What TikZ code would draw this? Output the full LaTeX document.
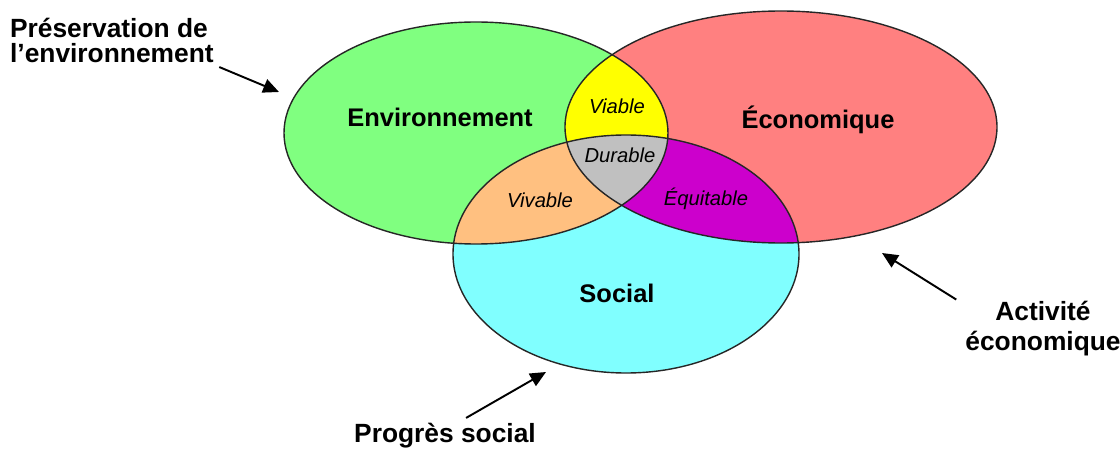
\documentclass[tikz,border=0pt]{standalone}
\usepackage{fontspec}
\setmainfont{Liberation Sans}
\usetikzlibrary{arrows.meta}
\definecolor{envgreen}{HTML}{80FF80}
\definecolor{ecored}{HTML}{FF8080}
\definecolor{soccyan}{HTML}{80FFFF}
\definecolor{viayellow}{HTML}{FFFF00}
\definecolor{vivpeach}{HTML}{FFC080}
\definecolor{equmagenta}{HTML}{CC00CC}
\definecolor{durgrey}{HTML}{C0C0C0}
\begin{document}
\begin{tikzpicture}[x=0.02cm,y=-0.02cm,>={Triangle[length=9pt,width=8pt]},
		edge/.style={draw=black!85,line width=0.8pt},
		zone/.style={font=\bfseries\fontsize{14.5}{16}\selectfont},
		inter/.style={font=\itshape\fontsize{11.5}{13}\selectfont},
		outer/.style={font=\bfseries\fontsize{15}{17}\selectfont,inner sep=1pt},
		pointer/.style={->,line width=1.1pt}]
	\useasboundingbox (0,0) rectangle (1120,456);
	% the three spheres
	\fill[envgreen] (476,133) ellipse [x radius=192,y radius=111];
	\fill[ecored] (781,127) ellipse [x radius=216,y radius=116];
	\fill[soccyan] (626,254) ellipse [x radius=173,y radius=119];
	% overlaps
	\begin{scope}
		\clip (476,133) ellipse [x radius=192,y radius=111];
		\fill[viayellow] (781,127) ellipse [x radius=216,y radius=116];
		\fill[vivpeach] (626,254) ellipse [x radius=173,y radius=119];
	\end{scope}
	\begin{scope}
		\clip (781,127) ellipse [x radius=216,y radius=116];
		\fill[equmagenta] (626,254) ellipse [x radius=173,y radius=119];
	\end{scope}
	\begin{scope}
		\clip (476,133) ellipse [x radius=192,y radius=111];
		\clip (781,127) ellipse [x radius=216,y radius=116];
		\fill[durgrey] (626,254) ellipse [x radius=173,y radius=119];
	\end{scope}
	\draw[edge] (476,133) ellipse [x radius=192,y radius=111];
	\draw[edge] (781,127) ellipse [x radius=216,y radius=116];
	\draw[edge] (626,254) ellipse [x radius=173,y radius=119];
	% names
	\node[zone] (env) at (440,117) {Environnement};
	\node[zone] (eco) at (818,120) {Économique};
	\node[zone] (soc) at (617,293) {Social};
	\node[inter] (via) at (617,106) {Viable};
	\node[inter] (dur) at (620,155) {Durable};
	\node[inter] (viv) at (540,200) {Vivable};
	\node[inter] (equ) at (706,199) {Équitable};
	% outside labels
	\node[outer,align=left,anchor=north west,font=\bfseries\fontsize{15}{14.5}\selectfont] (presv) at (8,16) {Préservation de\\l’environnement};
	\node[outer,align=center] (activ) at (1043,329) {Activité\\économique};
	\node[outer] (progres) at (445,436) {Progrès social};
	\coordinate (envtip) at (279,92);
	\coordinate (ecotip) at (882,253);
	\coordinate (soctip) at (546,372);
	\draw[pointer] ([xshift=2pt,yshift=-1pt]presv.south east) -- (envtip);
	\draw[pointer] ([xshift=-4pt]activ.north west) -- (ecotip);
	\draw[pointer] ([xshift=12pt,yshift=2pt]progres.north) -- (soctip);
\end{tikzpicture}
\end{document}
